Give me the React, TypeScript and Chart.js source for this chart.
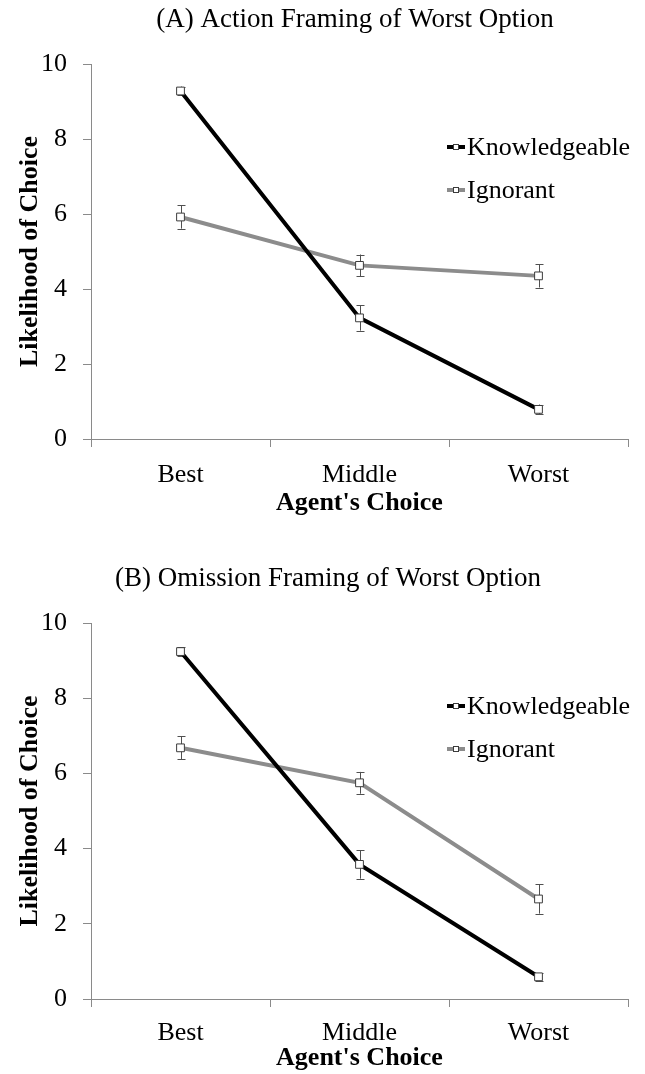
import React, { useEffect, useRef } from 'react';
import { Chart, registerables } from 'chart.js';

Chart.register(...registerables);

// ---------- data ----------
const categories = ['Best', 'Middle', 'Worst'];
const seriesNames = ['Knowledgeable', 'Ignorant'];
const yTicks = [0, 2, 4, 6, 8, 10];

const actionKnowledgeable = [9.28, 3.23, 0.79];
const actionKnowledgeableErr = [0.12, 0.34, 0.13];
const actionIgnorant = [5.92, 4.63, 4.35];
const actionIgnorantErr = [0.31, 0.29, 0.31];

const omissionKnowledgeable = [9.24, 3.58, 0.59];
const omissionKnowledgeableErr = [0.11, 0.38, 0.1];
const omissionIgnorant = [6.68, 5.75, 2.66];
const omissionIgnorantErr = [0.31, 0.29, 0.39];

const titleA = '(A) Action Framing of Worst Option';
const titleB = '(B) Omission Framing of Worst Option';
const xTitle = "Agent's Choice";
const yTitle = 'Likelihood of Choice';

// ---------- styles ----------
const FONT = '"Liberation Serif", "Times New Roman", serif';
const AXIS_GREY = '#8a8a8a';
const LINE_COLORS = ['#000000', '#8c8c8c'];
const MARKER_BORDER = '#3c3c3c';
const ERR_COLOR = '#505050';

type PanelProps = {
  title: string;
  titleCx: number;
  values: number[][];
  errors: number[][];
  height: number;
  padBottom: number;
  axisH: number;
  tickPad: number;
};

function Panel({ title, titleCx, values, errors, height, padBottom, axisH, tickPad }: PanelProps) {
  const ref = useRef<HTMLCanvasElement | null>(null);

  useEffect(() => {
    const canvas = ref.current;
    if (!canvas) return;

    const errorBars = {
      id: 'errorBars',
      beforeDatasetsDraw(chart: any) {
        const { ctx, scales } = chart;
        ctx.save();
        ctx.strokeStyle = ERR_COLOR;
        ctx.lineWidth = 1;
        values.forEach((series, si) => {
          series.forEach((v, i) => {
            const e = errors[si][i];
            const x = Math.round(scales.x.getPixelForValue(i)) + 0.5;
            const yTop = scales.y.getPixelForValue(v + e);
            const yBot = scales.y.getPixelForValue(v - e);
            ctx.beginPath();
            ctx.moveTo(x, yTop);
            ctx.lineTo(x, yBot);
            ctx.moveTo(x - 4, Math.round(yTop) + 0.5);
            ctx.lineTo(x + 4, Math.round(yTop) + 0.5);
            ctx.moveTo(x - 4, Math.round(yBot) + 0.5);
            ctx.lineTo(x + 4, Math.round(yBot) + 0.5);
            ctx.stroke();
          });
        });
        ctx.restore();
      },
    };

    const decorations = {
      id: 'decorations',
      afterDraw(chart: any) {
        const { ctx, chartArea } = chart;
        ctx.save();
        // title
        ctx.fillStyle = '#000';
        ctx.font = `27px ${FONT}`;
        ctx.textAlign = 'center';
        ctx.textBaseline = 'middle';
        ctx.fillText(title, titleCx, chartArea.top - 44);
        // legend
        const x0 = chartArea.left + 356;
        const rows = [83, 126];
        chart.data.datasets.forEach((ds: any, i: number) => {
          const y = chartArea.top + rows[i];
          ctx.strokeStyle = ds.borderColor;
          ctx.lineWidth = 4;
          ctx.beginPath();
          ctx.moveTo(x0, y);
          ctx.lineTo(x0 + 18, y);
          ctx.stroke();
          ctx.fillStyle = '#fff';
          ctx.strokeStyle = MARKER_BORDER;
          ctx.lineWidth = 1;
          ctx.fillRect(x0 + 6, y - 3, 6, 6);
          ctx.strokeRect(x0 + 6.5, y - 2.5, 5, 5);
          ctx.fillStyle = '#000';
          ctx.font = `26px ${FONT}`;
          ctx.textAlign = 'left';
          ctx.textBaseline = 'middle';
          ctx.fillText(ds.label, x0 + 20, y + 1);
        });
        ctx.restore();
      },
    };

    const chart = new Chart(canvas, {
      type: 'line',
      data: {
        labels: categories,
        datasets: seriesNames.map((name, si) => ({
          label: name,
          data: values[si],
          borderColor: LINE_COLORS[si],
          backgroundColor: LINE_COLORS[si],
          borderWidth: 4,
          tension: 0,
          pointStyle: 'rect',
          pointRadius: 5.5,
          pointBackgroundColor: '#ffffff',
          pointBorderColor: MARKER_BORDER,
          pointBorderWidth: 1,
        })),
      },
      options: {
        responsive: false,
        animation: false,
        devicePixelRatio: 1,
        layout: { padding: { top: 64, left: 0, right: 17, bottom: padBottom } },
        plugins: {
          legend: { display: false },
          title: { display: false },
          tooltip: { enabled: false },
        },
        scales: {
          x: {
            type: 'category',
            offset: true,
            grid: {
              offset: true,
              drawOnChartArea: false,
              drawTicks: true,
              tickLength: 8,
              color: AXIS_GREY,
            },
            border: { display: true, color: AXIS_GREY, width: 1 },
            ticks: {
              color: '#000',
              padding: tickPad,
              font: { family: FONT, size: 26 },
              maxRotation: 0,
            },
            title: {
              display: true,
              text: xTitle,
              color: '#000',
              font: { family: FONT, size: 26, weight: 'bold' },
              padding: { top: 0, bottom: 0 },
            },
            afterFit: (scale: any) => {
              scale.height = axisH;
            },
          },
          y: {
            type: 'linear',
            min: 0,
            max: 10,
            afterBuildTicks: (scale: any) => {
              scale.ticks = yTicks.map((v) => ({ value: v }));
            },
            grid: {
              drawOnChartArea: false,
              drawTicks: true,
              tickLength: 8,
              color: AXIS_GREY,
            },
            border: { display: true, color: AXIS_GREY, width: 1 },
            ticks: {
              color: '#000',
              padding: 16,
              font: { family: FONT, size: 26 },
            },
            title: {
              display: true,
              text: yTitle,
              color: '#000',
              font: { family: FONT, size: 26, weight: 'bold' },
              padding: { top: 15, bottom: 0 },
            },
            afterFit: (scale: any) => {
              scale.width = 91;
            },
          },
        },
      },
      plugins: [errorBars, decorations],
    } as any);

    return () => chart.destroy();
  }, [title, titleCx, values, errors, height, padBottom, axisH, tickPad]);

  return (
    <canvas
      ref={ref}
      width={645}
      height={height}
      style={{ display: 'block', width: 645, height }}
    />
  );
}

export default function App() {
  return (
    <div style={{ position: 'absolute', left: 0, top: 0, width: 645, height: 1074, overflow: 'hidden', background: '#fff' }}>
      <Panel
        title={titleA}
        titleCx={355}
        values={[actionKnowledgeable, actionIgnorant]}
        errors={[actionKnowledgeableErr, actionIgnorantErr]}
        height={559}
        padBottom={40}
        axisH={80}
        tickPad={13}
      />
      <Panel
        title={titleB}
        titleCx={328}
        values={[omissionKnowledgeable, omissionIgnorant]}
        errors={[omissionKnowledgeableErr, omissionIgnorantErr]}
        height={515}
        padBottom={0}
        axisH={75}
        tickPad={11}
      />
    </div>
  );
}
